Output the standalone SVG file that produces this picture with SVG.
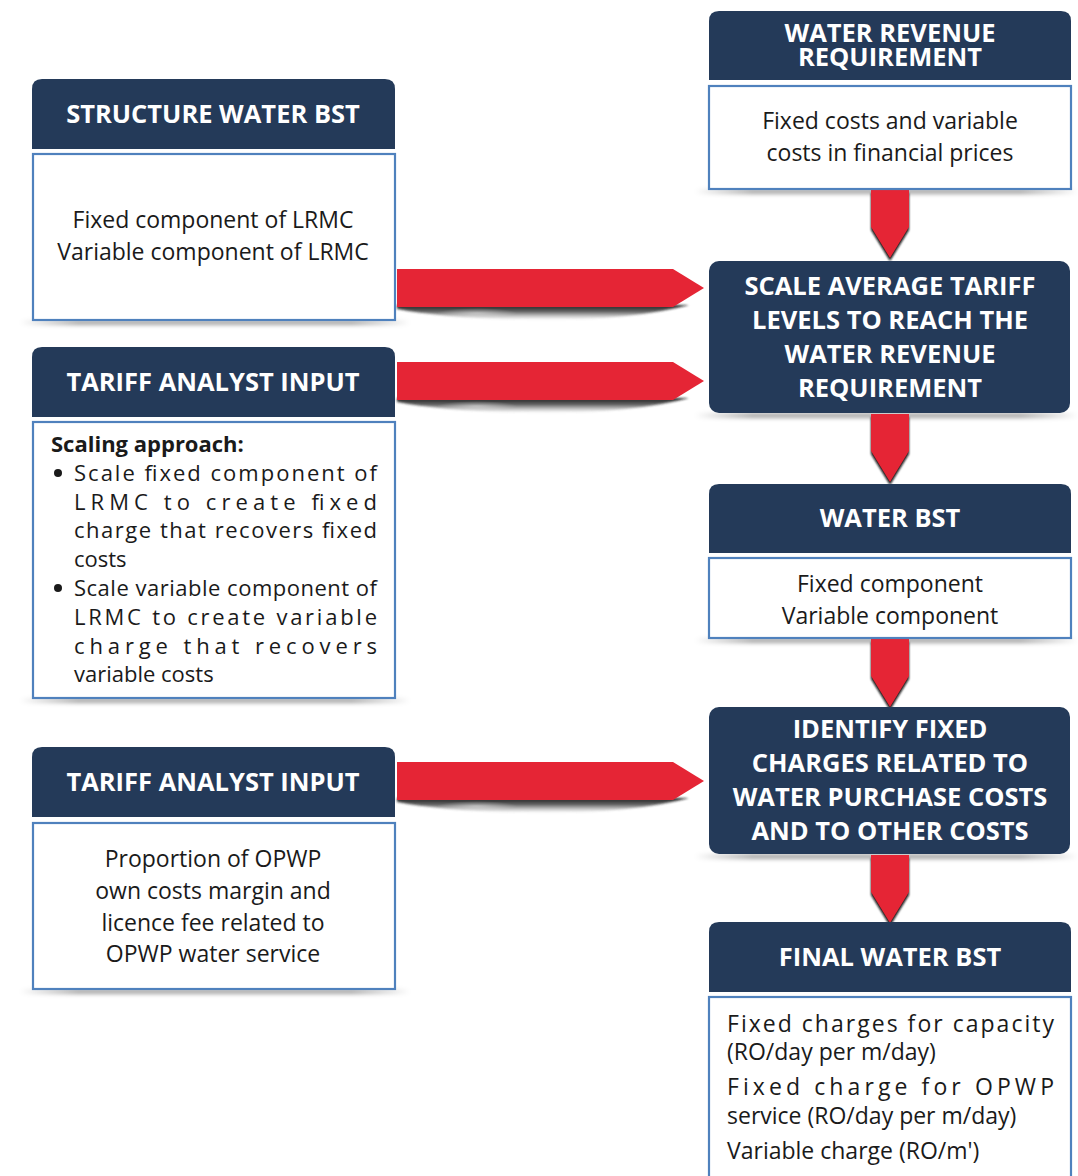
<svg xmlns="http://www.w3.org/2000/svg" width="1078" height="1176" viewBox="0 0 1078 1176">
  <style>
    .hdr { fill: #243a59; }
    .box { fill: #ffffff; stroke: #4f81bd; stroke-width: 2.2; }
    .ht { font-family: "Open Sans", "Noto Sans", sans-serif; font-weight: 700; font-size: 25.5px; fill: #ffffff; text-anchor: middle; }
    .bt { font-family: "Open Sans", "Noto Sans", sans-serif; font-size: 23px; fill: #1a1a1a; }
    .sm { font-size: 22px; }
    .c { text-anchor: middle; }
    .arrow { fill: #e52535; }
  </style>
  <defs>
    <linearGradient id="boxShade" x1="0" y1="0" x2="1" y2="0">
      <stop offset="0" stop-color="#000" stop-opacity="0"/>
      <stop offset="0.15" stop-color="#000" stop-opacity="0.35"/>
      <stop offset="0.85" stop-color="#000" stop-opacity="0.35"/>
      <stop offset="1" stop-color="#000" stop-opacity="0"/>
    </linearGradient>
    <linearGradient id="arrowShade" x1="0" y1="0" x2="0" y2="1">
      <stop offset="0" stop-color="#111" stop-opacity="0.95"/>
      <stop offset="0.45" stop-color="#333" stop-opacity="0.75"/>
      <stop offset="1" stop-color="#888" stop-opacity="0"/>
    </linearGradient>
    <radialGradient id="arrowGlow" cx="0.5" cy="0.5" r="0.5">
      <stop offset="0" stop-color="#fff" stop-opacity="0.45"/>
      <stop offset="1" stop-color="#fff" stop-opacity="0"/>
    </radialGradient>
    <filter id="soft" x="-10%" y="-200%" width="120%" height="500%">
      <feGaussianBlur stdDeviation="2.2"/>
    </filter>
    <filter id="soft1" x="-10%" y="-100%" width="120%" height="300%">
      <feGaussianBlur stdDeviation="1.2"/>
    </filter>
    <!-- horizontal connector: shaft plus pointed tip -->
    <path id="hArrow" d="M0,0 H276 L307,19 L276,38 H0 Z"/>
    <!-- shadow lens under a horizontal connector -->
    <path id="hShadow" d="M0,36 H292 Q240,50 150,51 Q50,50 0,40 Z"/>
    <!-- vertical connector -->
    <path id="vArrow" d="M0,0 H38 V37 L19,68 L0,37 Z"/>
  </defs>

  <!-- soft drop shadows beneath boxes -->
  <g id="shadows" filter="url(#soft)">
    <rect x="20" y="320" width="390" height="5" fill="url(#boxShade)"/>
    <rect x="20" y="698" width="390" height="5" fill="url(#boxShade)"/>
    <rect x="20" y="989" width="390" height="5" fill="url(#boxShade)"/>
    <rect x="695" y="189" width="383" height="5" fill="url(#boxShade)"/>
    <rect x="695" y="413" width="383" height="5" fill="url(#boxShade)"/>
    <rect x="695" y="638" width="383" height="5" fill="url(#boxShade)"/>
    <rect x="695" y="854" width="383" height="5" fill="url(#boxShade)"/>
  </g>

  <!-- connectors -->
  <g id="connectors">
    <g transform="translate(397,269)">
      <use href="#hShadow" fill="url(#arrowShade)" filter="url(#soft1)"/>
      <ellipse cx="80" cy="44" rx="40" ry="5" fill="url(#arrowGlow)"/>
      <use href="#hArrow" class="arrow"/>
    </g>
    <g transform="translate(397,362)">
      <use href="#hShadow" fill="url(#arrowShade)" filter="url(#soft1)"/>
      <ellipse cx="80" cy="44" rx="40" ry="5" fill="url(#arrowGlow)"/>
      <use href="#hArrow" class="arrow"/>
    </g>
    <g transform="translate(397,762)">
      <use href="#hShadow" fill="url(#arrowShade)" filter="url(#soft1)"/>
      <ellipse cx="80" cy="44" rx="40" ry="5" fill="url(#arrowGlow)"/>
      <use href="#hArrow" class="arrow"/>
    </g>
    <g transform="translate(871,190)">
      <use href="#vArrow" fill="#111" transform="translate(0,3)" filter="url(#soft1)"/>
      <use href="#vArrow" class="arrow"/>
    </g>
    <g transform="translate(871,414)">
      <use href="#vArrow" fill="#111" transform="translate(0,3)" filter="url(#soft1)"/>
      <use href="#vArrow" class="arrow"/>
    </g>
    <g transform="translate(871,639)">
      <use href="#vArrow" fill="#111" transform="translate(0,3)" filter="url(#soft1)"/>
      <use href="#vArrow" class="arrow"/>
    </g>
    <g transform="translate(871,855)">
      <use href="#vArrow" fill="#111" transform="translate(0,3)" filter="url(#soft1)"/>
      <use href="#vArrow" class="arrow"/>
    </g>
  </g>

  <!-- left column -->
  <g id="structure-water-bst">
    <path class="hdr" d="M32,149 V89 Q32,79 42,79 H385 Q395,79 395,89 V149 Z"/>
    <text class="ht" x="213" y="123">STRUCTURE WATER BST</text>
    <rect class="box" x="33" y="154" width="362" height="166"/>
    <text class="bt c" x="213" y="228">Fixed component of LRMC</text>
    <text class="bt c" x="213" y="260">Variable component of LRMC</text>
  </g>

  <g id="tariff-analyst-input-1">
    <path class="hdr" d="M32,417 V357 Q32,347 42,347 H385 Q395,347 395,357 V417 Z"/>
    <text class="ht" x="213" y="391">TARIFF ANALYST INPUT</text>
    <rect class="box" x="33" y="422" width="362" height="276"/>
    <text class="bt sm" x="51" y="452" font-weight="700">Scaling approach:</text>
    <circle cx="58" cy="473" r="4" fill="#1a1a1a"/>
    <text class="bt sm" x="74" y="481" textLength="303" lengthAdjust="spacing">Scale fixed component of</text>
    <text class="bt sm" x="74" y="510" textLength="303" lengthAdjust="spacing">LRMC to create fixed</text>
    <text class="bt sm" x="74" y="538" textLength="303" lengthAdjust="spacing">charge that recovers fixed</text>
    <text class="bt sm" x="74" y="567">costs</text>
    <circle cx="58" cy="588" r="4" fill="#1a1a1a"/>
    <text class="bt sm" x="74" y="596" textLength="303" lengthAdjust="spacing">Scale variable component of</text>
    <text class="bt sm" x="74" y="625" textLength="303" lengthAdjust="spacing">LRMC to create variable</text>
    <text class="bt sm" x="74" y="654" textLength="303" lengthAdjust="spacing">charge that recovers</text>
    <text class="bt sm" x="74" y="682">variable costs</text>
  </g>

  <g id="tariff-analyst-input-2">
    <path class="hdr" d="M32,817 V757 Q32,747 42,747 H385 Q395,747 395,757 V817 Z"/>
    <text class="ht" x="213" y="791">TARIFF ANALYST INPUT</text>
    <rect class="box" x="33" y="823" width="362" height="166"/>
    <text class="bt c" x="213" y="867">Proportion of OPWP</text>
    <text class="bt c" x="213" y="899">own costs margin and</text>
    <text class="bt c" x="213" y="931">licence fee related to</text>
    <text class="bt c" x="213" y="962">OPWP water service</text>
  </g>

  <!-- right column -->
  <g id="water-revenue-requirement">
    <path class="hdr" d="M709,80 V21 Q709,11 719,11 H1061 Q1071,11 1071,21 V80 Z"/>
    <text class="ht" x="890" y="42" font-size="23.5">WATER REVENUE</text>
    <text class="ht" x="890" y="66" font-size="23.5">REQUIREMENT</text>
    <rect class="box" x="709" y="86" width="362" height="103"/>
    <text class="bt c" x="890" y="129">Fixed costs and variable</text>
    <text class="bt c" x="890" y="161">costs in financial prices</text>
  </g>

  <g id="scale-average-tariff">
    <rect class="hdr" x="709" y="261" width="361" height="152" rx="10"/>
    <text class="ht" x="890" y="295">SCALE AVERAGE TARIFF</text>
    <text class="ht" x="890" y="329">LEVELS TO REACH THE</text>
    <text class="ht" x="890" y="363">WATER REVENUE</text>
    <text class="ht" x="890" y="397">REQUIREMENT</text>
  </g>

  <g id="water-bst">
    <path class="hdr" d="M709,553 V494 Q709,484 719,484 H1061 Q1071,484 1071,494 V553 Z"/>
    <text class="ht" x="890" y="527">WATER BST</text>
    <rect class="box" x="709" y="558" width="362" height="80"/>
    <text class="bt c" x="890" y="592">Fixed component</text>
    <text class="bt c" x="890" y="624">Variable component</text>
  </g>

  <g id="identify-fixed-charges">
    <rect class="hdr" x="709" y="707" width="361" height="147" rx="10"/>
    <text class="ht" x="890" y="738">IDENTIFY FIXED</text>
    <text class="ht" x="890" y="772">CHARGES RELATED TO</text>
    <text class="ht" x="890" y="806">WATER PURCHASE COSTS</text>
    <text class="ht" x="890" y="840">AND TO OTHER COSTS</text>
  </g>

  <g id="final-water-bst">
    <path class="hdr" d="M709,992 V932 Q709,922 719,922 H1061 Q1071,922 1071,932 V992 Z"/>
    <text class="ht" x="890" y="966">FINAL WATER BST</text>
    <rect class="box" x="709" y="997" width="362" height="190"/>
    <text class="bt" x="727" y="1032" textLength="327" lengthAdjust="spacing">Fixed charges for capacity</text>
    <text class="bt" x="727" y="1060">(RO/day per m/day)</text>
    <text class="bt" x="727" y="1095" textLength="327" lengthAdjust="spacing">Fixed charge for OPWP</text>
    <text class="bt" x="727" y="1124">service (RO/day per m/day)</text>
    <text class="bt" x="727" y="1159">Variable charge (RO/m')</text>
  </g>
</svg>
